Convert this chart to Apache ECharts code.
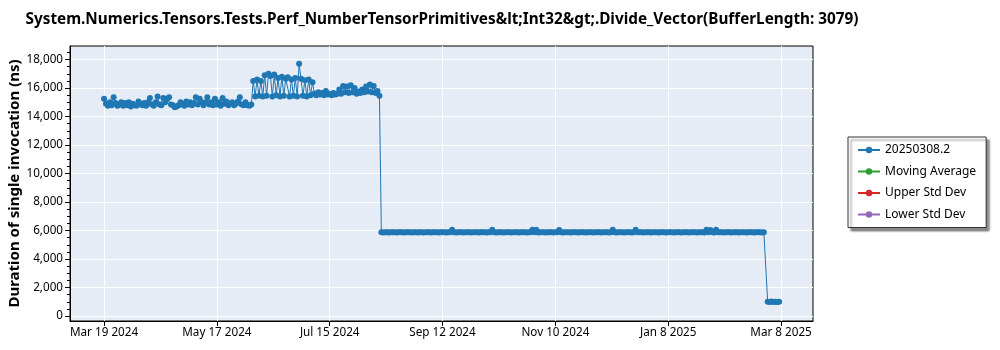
<!DOCTYPE html>
<html><head><meta charset="utf-8">
<script src="https://cdn.jsdelivr.net/npm/echarts/dist/echarts.min.js"></script>
<style>html,body{margin:0;padding:0;background:#fff}#c{width:1000px;height:350px}</style>
</head><body><div id="c"></div>
<script>
const titleText = 'System.Numerics.Tensors.Tests.Perf_NumberTensorPrimitives&lt;Int32&gt;.Divide_Vector(BufferLength: 3079)';
const yAxisTitle = 'Duration of single invocation (ns)';
const seriesNames = ['20250308.2', 'Moving Average', 'Upper Std Dev', 'Lower Std Dev'];
const seriesColors = ['#1f77b4', '#2ca02c', '#d62728', '#9467bd'];
const axisOriginDate = '2024-03-19';
const xTickDates = ['2024-03-19', '2024-05-17', '2024-07-15', '2024-09-12', '2024-11-10', '2025-01-08', '2025-03-08'];
const yTickValues = [0, 2000, 4000, 6000, 8000, 10000, 12000, 14000, 16000, 18000];
const yMinorTickValues = [0, 500, 1000, 1500, 2000, 2500, 3000, 3500, 4000, 4500, 5000, 5500, 6000, 6500, 7000, 7500, 8000, 8500,
  9000, 9500, 10000, 10500, 11000, 11500, 12000, 12500, 13000, 13500, 14000, 14500, 15000, 15500, 16000, 16500, 17000, 17500, 18000, 18500];

// daily values, one per day from each segment's start date
const springStart = '2024-03-19';
const springValues = [
  15250,14900,14750,15000,14800,15350,14950,14750,14850,15000,
  14750,14950,14800,15000,14700,14900,14800,14750,15050,14900,
  14800,14950,14750,15000,15300,14850,14750,15000,15400,14850,
  14800,15300,15000,15250,15350,14850,14800,14650,14700,14800,
  15000,14850,14750,15050,14850,15000,14800,14950,15350,14850,
  15250,15000,14800,15000,15350,14850,15000,14800,15250,14850,
  15000,14750,15300,14900,15050,14800,14900,15000,14800,14900,
  15050,15350,14850,14800,15000,14800,14750,14850
];
const summerStart = '2024-06-05';
const summerValues = [
  16500,15400,16600,15450,16500,15400,16900,15450,17000,16850,
  15400,16950,15500,16700,15400,16800,15450,16650,16750,15400,
  16600,15450,16700,15400,17700,16650,15450,16550,15400,16600,
  15500,16400,15600,15500,15700,15550,15650,15500,15800,15550,
  15600,15500,15650,15550,15600,15900,15600,16150,15700,16100,
  15650,16200,15700,16000,15600,15750,15650,15900,15700,16100,
  15750,16250,15700,16150,15650,15800,15450
];
const autumnStart = '2024-08-11';
const autumnValues = [
  5880,5860,5870,5880,5860,5870,5880,5870,5860,5870,
  5880,5870,5860,5870,5880,5870,5860,5880,5870,5860,
  5870,5880,5860,5870,5880,5870,5860,5870,5880,5870,
  5860,5870,5880,5870,5860,5870,5880,6050,5870,5860,
  5870,5880,5870,5860,5870,5880,5870,5860,5870,5880,
  5870,5860,5870,5880,5870,5860,5870,5880,6050,5870,
  5860,5870,5880,5870,5860,5870,5880,5870,5860,5870,
  5880,5870,5860,5870,5880,5870,5860,5870,5880,6050,
  5870,6050,5860,5870,5880,5870,5860,5870,5880,5870,
  5860,5870,5880,6040,5870,5860,5870,5880,5870,5860,
  5870,5880,5870,5860,5870,5880,5870,5860,5870,5880,
  5870,5860,5870,5880,5870,5860,5870,5880,5870,5860,
  5870,6050,5870,5860,5870,5880,5870,5860,5870,5880,
  5870,5860,5870,6050,5870,5880,5870,5860,5870,5880,
  5870,5860,5870,5880,5870,5860,5870,5880,5870,5860,
  5870,5880,5870,5860,5870,5880,5870,5860,5870,5880,
  5870,5860,5870,5880,5870,5860,5870,5880,5870,5860,
  6050,5870,6040,5870,5860,6050,5870,5880,5870,5860,
  5870,5880,5870,5860,5870,5880,5870,5860,5870,5880,
  5870,5860,5870,5880,5870,5860,5870,5880,5870,5860,
  5870
];
const marchStart = '2025-03-01';
const marchValues = [1000, 980, 1010, 990, 1000, 990, 1000];

const DAY = 86400000;
const origin = Date.parse(axisOriginDate + 'T00:00:00Z');
function dayOf(s) { return Math.round((Date.parse(s + 'T00:00:00Z') - origin) / DAY); }
function segment(start, vals) { const d0 = dayOf(start); return vals.map((v, i) => [d0 + i, v]); }
const mainData = [].concat(
  segment(springStart, springValues),
  segment(summerStart, summerValues),
  segment(autumnStart, autumnValues),
  segment(marchStart, marchValues)
);
const xTickDays = xTickDates.map(dayOf);
const MONTHS = ['Jan','Feb','Mar','Apr','May','Jun','Jul','Aug','Sep','Oct','Nov','Dec'];
function fmtDay(v) {
  const d = new Date(origin + Math.round(v) * DAY);
  return MONTHS[d.getUTCMonth()] + ' ' + d.getUTCDate() + ' ' + d.getUTCFullYear();
}
function fmtNum(v) { return String(v).replace(/\B(?=(\d{3})+(?!\d))/g, ','); }

const FONT = 'Noto Sans';
const X_MIN = -17.8, X_MAX = 370.7, Y_MIN = -350, Y_MAX = 18950;
const chart = echarts.init(document.getElementById('c'), null, { renderer: 'canvas' });
chart.setOption({
  animation: false,
  backgroundColor: '#fff',
  title: {
    text: titleText, left: 437, top: 7, textAlign: 'center',
    textStyle: { fontFamily: FONT, fontWeight: 'bold', fontSize: 15.3, color: '#000' }
  },
  grid: {
    left: 70, right: 187, top: 46, bottom: 29, show: true, containLabel: false, outerBoundsMode: 'none',
    backgroundColor: '#e5ecf6', borderColor: '#000', borderWidth: 1
  },
  legend: {
    orient: 'vertical', left: 848, top: 137,
    data: seriesNames,
    itemWidth: 22, itemHeight: 8, itemGap: 9.5,
    padding: [7, 10, 7, 9],
    backgroundColor: '#fff', borderColor: '#333', borderWidth: 1,
    shadowColor: 'rgba(0,0,0,0.45)', shadowOffsetX: 3, shadowOffsetY: 3, shadowBlur: 2,
    textStyle: { fontFamily: FONT, fontSize: 12, color: '#000' }
  },
  xAxis: {
    type: 'value', min: X_MIN, max: X_MAX,
    axisLine: { show: true, onZero: false, lineStyle: { color: '#000', width: 1 } },
    axisTick: { show: true, length: 5, customValues: xTickDays, lineStyle: { color: '#000' } },
    axisLabel: { customValues: xTickDays, formatter: fmtDay, fontFamily: FONT, fontSize: 11.7, color: '#000', margin: 6 },
    splitLine: { show: true, customValues: xTickDays, lineStyle: { color: '#fff', width: 1 } }
  },
  yAxis: [{
    type: 'value', min: Y_MIN, max: Y_MAX, position: 'left',
    name: yAxisTitle, nameLocation: 'middle', nameGap: 48, nameMoveOverlap: false,
    nameTextStyle: { fontFamily: FONT, fontWeight: 'bold', fontSize: 15, color: '#000' },
    axisLine: { show: true, onZero: false, lineStyle: { color: '#000', width: 1 } },
    axisTick: { show: true, length: 5, customValues: yTickValues, lineStyle: { color: '#000' } },
    axisLabel: { customValues: yTickValues, formatter: fmtNum, fontFamily: FONT, fontSize: 11.7, color: '#000', margin: 7 },
    splitLine: { show: true, customValues: yTickValues, lineStyle: { color: '#fff', width: 1 } }
  }, {
    type: 'value', min: Y_MIN, max: Y_MAX, position: 'left', offset: 0,
    axisLine: { show: false, onZero: false },
    axisTick: { show: true, length: 3, customValues: yMinorTickValues, lineStyle: { color: '#000' } },
    axisLabel: { show: false },
    splitLine: { show: false }
  }],
  series: [
    {
      name: seriesNames[0], type: 'line', data: mainData,
      color: seriesColors[0], symbol: 'circle', symbolSize: 6, showSymbol: true, showAllSymbol: true,
      lineStyle: { width: 1, color: seriesColors[0] }, itemStyle: { color: seriesColors[0] }
    },
    { name: seriesNames[1], type: 'line', data: [], color: seriesColors[1], symbol: 'circle', symbolSize: 6, lineStyle: { width: 1 } },
    { name: seriesNames[2], type: 'line', data: [], color: seriesColors[2], symbol: 'circle', symbolSize: 6, lineStyle: { width: 1 } },
    { name: seriesNames[3], type: 'line', data: [], color: seriesColors[3], symbol: 'circle', symbolSize: 6, lineStyle: { width: 1 } }
  ]
});
</script>
</body></html>
